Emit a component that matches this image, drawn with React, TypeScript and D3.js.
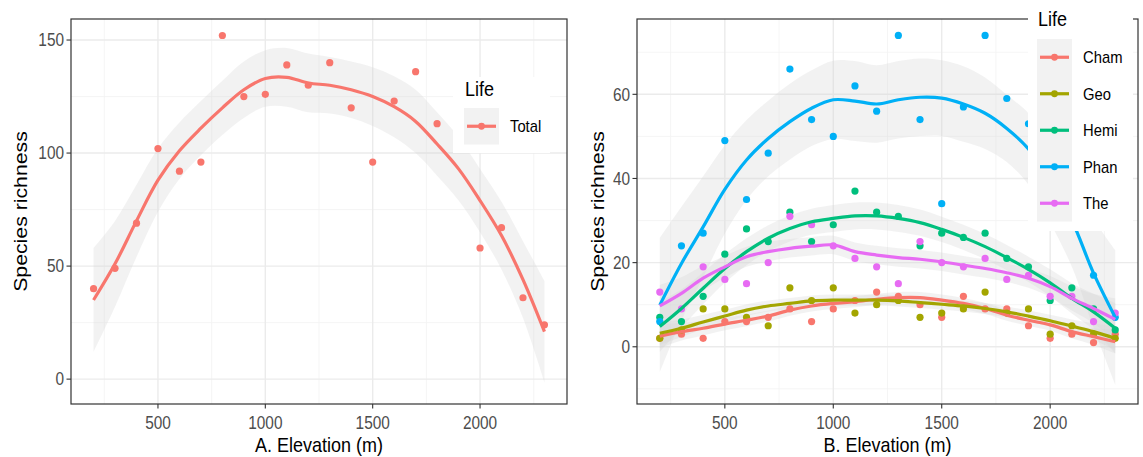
import React from "react";
import * as d3 from "d3";

const elevation = [200,300,400,500,600,700,800,900,1000,1100,1200,1300,1400,1500,1600,1700,1800,1900,2000,2100,2200,2300];

// Panel A
const totalPts = [40,49,69,102,92,96,152,125,126,139,130,140,120,96,123,136,113,118,58,67,36,24];
const totalFit = [35,51,70,88,101,111,120,128,133,133.5,131,130,128,125,120.5,114,104,93,79,63.5,44,21];
const totalSe = [23,19,16,14,12.5,12,12,12.5,12.5,13,13,12.5,12.5,13,13.5,14,14,14,14,15,17,22.5];

// Panel B
const lifeForms = ["Cham","Geo","Hemi","Phan","The"];
const lifeColors = ["#F8766D","#A3A500","#00BF7D","#00B0F6","#E76BF3"];
const chamPts = [2,3,2,6,6,7,9,6,9,11,13,12,10,7,12,9,9,5,2,3,1,3];
const geoPts = [2,4,9,9,7,5,14,11,14,8,10,11,7,8,9,13,8,9,3,5,3,2];
const hemiPts = [7,6,12,22,28,25,32,25,29,37,32,31,24,27,26,27,21,19,11,14,9,4];
const phanPts = [6,24,27,49,35,46,66,54,50,62,56,74,54,34,57,74,59,53,44,31,17,7];
const thePts = [13,9,19,16,15,20,31,29,24,21,19,15,25,20,19,21,16,17,12,12,6,8];

const chamFit = [2.5,3.6,4.4,5.4,6.3,7.3,8.7,9.7,10.3,10.7,11.3,11.7,11.7,11.1,10.3,9.1,7.5,6.3,5.2,3.6,2.4,1.2];
const geoFit = [3.2,4.4,5.9,7.3,8.7,9.7,10.3,10.9,11.1,11.1,11.1,10.9,10.5,10.1,9.7,9.1,8.3,7.3,6.2,4.9,3.6,2];
const hemiFit = [4.8,9.1,13.9,18.6,22.6,25.8,28.1,29.7,30.5,31.1,31.1,30.5,29.5,27.9,26,23.8,21.2,18.4,15.2,11.5,8.3,4.4];
const phanFit = [9.9,19.8,28.5,37.4,44.4,49.5,53.5,56.7,58.7,58.4,57.7,58.7,59.3,59.1,57.7,55.5,51.9,47,39,30,17.5,7];
const theFit = [9.7,12.7,16.3,19,21.4,22.6,23.4,23.9,24.2,22.6,21.8,21.2,20.8,20.2,19.4,18.6,17.6,16.3,14.3,11.5,9.1,6.5];

const chamSe = [2.8,2.1,1.7,1.5,1.4,1.3,1.3,1.3,1.3,1.3,1.3,1.3,1.3,1.3,1.3,1.3,1.3,1.3,1.4,1.6,2,2.8];
const geoSe = [2.8,2.1,1.7,1.5,1.4,1.3,1.3,1.3,1.3,1.3,1.3,1.3,1.3,1.3,1.3,1.3,1.3,1.3,1.4,1.6,2,2.8];
const hemiSe = [6,4.5,3.8,3.4,3.2,3.1,3.1,3.1,3.2,3.2,3.2,3.2,3.1,3,3,3,3,3,3.2,3.6,4.3,6];
const phanSe = [16,13.5,12,10.5,9.5,9,9,9,9.3,9.5,9.2,9.2,9.2,9,9,8.5,8,8.5,9.5,11,13,16];
const theSe = [5,3.8,3,2.6,2.4,2.3,2.2,2.2,2.2,2.2,2.2,2.2,2.2,2.2,2.2,2.2,2.2,2.3,2.5,2.9,3.5,5];

const xTicks = [500,1000,1500,2000];
const xMinor = [250,750,1250,1750,2250];
const yTicksA = [0,50,100,150];
const yMinorA = [25,75,125];
const yTicksB = [0,20,40,60];
const yMinorB = [-10,10,30,50,70];

const FONT = "'Liberation Sans', Arial, Helvetica, sans-serif";
const RIBBON = "#d4d4d4";
const RIB_OP = 0.3;
const VS = 1.15; // vertical stretch of glyphs seen in the reference

type Series = { name: string; color: string; pts: number[]; fit: number[]; se: number[] };

function T(props: { x: number; y: number; size: number; anchor?: string; fill?: string; children: React.ReactNode }) {
  const { x, y, size, anchor, fill, children } = props;
  return (
    <text transform={`translate(${x},${y}) scale(1,${VS})`} textAnchor={anchor || "start"} fontSize={size} fill={fill || "#000"} fontFamily={FONT}>
      {children}
    </text>
  );
}

function Panel(props: {
  left: number; right: number; top: number; bottom: number;
  yDomain: [number, number]; yTicks: number[]; yMinor: number[];
  series: Series[]; xTitle: string; yTitleX: number;
  legend: React.ReactNode;
}) {
  const { left, right, top, bottom, yDomain, yTicks, yMinor, series, xTitle, yTitleX, legend } = props;
  const x = d3.scaleLinear().domain([95, 2405]).range([left, right]);
  const y = d3.scaleLinear().domain(yDomain).range([bottom, top]);
  const line = d3.line<number>().x((_, i) => x(elevation[i])).y((d) => y(d)).curve(d3.curveCatmullRom.alpha(0.5));
  const clipId = "clip" + left;
  return (
    <g>
      <defs>
        <clipPath id={clipId}>
          <rect x={left} y={top} width={right - left} height={bottom - top} />
        </clipPath>
      </defs>
      <rect x={left} y={top} width={right - left} height={bottom - top} fill="#fff" />
      {xMinor.map((t) => (
        <line key={"xm" + t} x1={x(t)} x2={x(t)} y1={top} y2={bottom} stroke="#f2f2f2" strokeWidth={0.8} />
      ))}
      {yMinor.map((t) => (
        <line key={"ym" + t} x1={left} x2={right} y1={y(t)} y2={y(t)} stroke="#f2f2f2" strokeWidth={0.8} />
      ))}
      {xTicks.map((t) => (
        <line key={"xg" + t} x1={x(t)} x2={x(t)} y1={top} y2={bottom} stroke="#ebebeb" strokeWidth={1.4} />
      ))}
      {yTicks.map((t) => (
        <line key={"yg" + t} x1={left} x2={right} y1={y(t)} y2={y(t)} stroke="#ebebeb" strokeWidth={1.4} />
      ))}
      <g clipPath={`url(#${clipId})`}>
        {series.map((s) => {
          const area = d3
            .area<number>()
            .x((_, i) => x(elevation[i]))
            .y0((d, i) => y(d - s.se[i]))
            .y1((d, i) => y(d + s.se[i]))
            .curve(d3.curveCatmullRom.alpha(0.5));
          return <path key={"r" + s.name} d={area(s.fit) || ""} fill={RIBBON} fillOpacity={RIB_OP} />;
        })}
        {series.map((s) =>
          s.pts.map((v, i) => (
            <circle key={s.name + "p" + i} cx={x(elevation[i])} cy={y(v)} r={3.6} fill={s.color} />
          ))
        )}
        {series.map((s) => (
          <path key={"l" + s.name} d={line(s.fit) || ""} fill="none" stroke={s.color} strokeWidth={3.2} />
        ))}
      </g>
      <rect x={left} y={top} width={right - left} height={bottom - top} fill="none" stroke="#333" strokeWidth={1.2} />
      {legend}
      {xTicks.map((t) => (
        <g key={"xt" + t}>
          <line x1={x(t)} x2={x(t)} y1={bottom} y2={bottom + 4.5} stroke="#333" strokeWidth={1.1} />
          <T x={x(t)} y={428.5} size={15.4} anchor="middle" fill="#4d4d4d">{t}</T>
        </g>
      ))}
      {yTicks.map((t) => (
        <g key={"yt" + t}>
          <line x1={left - 4.5} x2={left} y1={y(t)} y2={y(t)} stroke="#333" strokeWidth={1.1} />
          <T x={left - 7} y={y(t) + 6.2} size={15.4} anchor="end" fill="#4d4d4d">{t}</T>
        </g>
      ))}
      <T x={(left + right) / 2} y={452} size={18} anchor="middle">{xTitle}</T>
      <text transform={`translate(${yTitleX + 6.5},${(top + bottom) / 2}) rotate(-90) scale(${VS},1)`} textAnchor="middle" fontSize={18.5} fill="#000" fontFamily={FONT}>Species richness</text>
    </g>
  );
}

function Legend(props: { x: number; y: number; w: number; h: number; keyX: number; titleY: number; keyTop: number; items: { name: string; color: string }[] }) {
  const { x, y, w, h, keyX, titleY, keyTop, items } = props;
  const keyH = 36.5;
  return (
    <g>
      <rect x={x} y={y} width={w} height={h} fill="#fff" />
      <T x={keyX + 1} y={titleY} size={18}>Life</T>
      <rect x={keyX} y={keyTop} width={35} height={keyH * items.length} fill="#f2f2f2" />
      {items.map((it, i) => {
        const cy = keyTop + keyH * i + keyH / 2;
        return (
          <g key={it.name}>
            <line x1={keyX + 3} x2={keyX + 32} y1={cy} y2={cy} stroke={it.color} strokeWidth={3.2} />
            <circle cx={keyX + 17.5} cy={cy} r={3.4} fill={it.color} />
            <T x={keyX + 46} y={cy + 6} size={14.8}>{it.name}</T>
          </g>
        );
      })}
    </g>
  );
}

export default function App() {
  const seriesA: Series[] = [{ name: "Total", color: "#F8766D", pts: totalPts, fit: totalFit, se: totalSe }];
  const ptsB = [chamPts, geoPts, hemiPts, phanPts, thePts];
  const fitB = [chamFit, geoFit, hemiFit, phanFit, theFit];
  const seB = [chamSe, geoSe, hemiSe, phanSe, theSe];
  const seriesB: Series[] = lifeForms.map((n, i) => ({ name: n, color: lifeColors[i], pts: ptsB[i], fit: fitB[i], se: seB[i] }));
  return (
    <svg width={1143} height={457} style={{ position: "absolute", left: 0, top: 0, background: "#fff" }}>
      <rect width={1143} height={457} fill="#fff" />
      <Panel
        left={71} right={567} top={19} bottom={404}
        yDomain={[-11, 159.3]} yTicks={yTicksA} yMinor={yMinorA}
        series={seriesA} xTitle="A. Elevation (m)" yTitleX={20}
        legend={<Legend x={453} y={77} w={97} h={76} keyX={464} titleY={96} keyTop={108} items={[{ name: "Total", color: "#F8766D" }]} />}
      />
      <Panel
        left={637} right={1138} top={19} bottom={404}
        yDomain={[-13.6, 77.9]} yTicks={yTicksB} yMinor={yMinorB}
        series={seriesB} xTitle="B. Elevation (m)" yTitleX={597}
        legend={<Legend x={1028} y={5} w={105} h={226} keyX={1037} titleY={26} keyTop={39} items={lifeForms.map((n, i) => ({ name: n, color: lifeColors[i] }))} />}
      />
    </svg>
  );
}
